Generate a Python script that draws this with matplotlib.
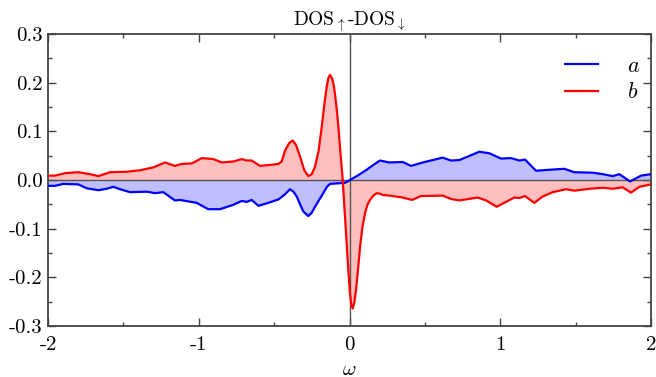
import matplotlib
matplotlib.use("Agg")
import matplotlib.pyplot as plt
from matplotlib.ticker import MultipleLocator, FormatStrFormatter

plt.rcParams['font.family'] = ['cmr10', 'DejaVu Serif']
plt.rcParams['mathtext.fontset'] = 'cm'
plt.rcParams['axes.unicode_minus'] = False
plt.rcParams['axes.formatter.use_mathtext'] = True

omega_a = [-2.0, -1.954, -1.898, -1.799, -1.743, -1.666, -1.611, -1.567, -1.522, -1.456,
           -1.345, -1.290, -1.235, -1.158, -1.124, -1.014, -0.937, -0.859, -0.771, -0.715,
           -0.682, -0.649, -0.605, -0.549, -0.472, -0.430, -0.395, -0.372, -0.350, -0.328,
           -0.306, -0.273, -0.250, -0.229, -0.200, -0.174, -0.150, -0.129, -0.085, -0.030,
           0.003, 0.048, 0.114, 0.158, 0.202, 0.264, 0.353, 0.408, 0.486, 0.618,
           0.673, 0.729, 0.861, 0.927, 1.005, 1.071, 1.127, 1.164, 1.237, 1.325,
           1.425, 1.491, 1.613, 1.680, 1.746, 1.790, 1.861, 1.934, 2.0]
dos_a = [-0.012, -0.012, -0.008, -0.009, -0.017, -0.021, -0.018, -0.014, -0.019, -0.025,
         -0.024, -0.027, -0.025, -0.042, -0.041, -0.047, -0.060, -0.060, -0.051, -0.043,
         -0.045, -0.041, -0.053, -0.048, -0.040, -0.030, -0.019, -0.024, -0.034, -0.050,
         -0.065, -0.074, -0.067, -0.055, -0.040, -0.027, -0.014, -0.008, -0.007, -0.006,
         0.0, 0.008, 0.021, 0.031, 0.040, 0.036, 0.037, 0.029, 0.036, 0.046,
         0.040, 0.041, 0.058, 0.055, 0.044, 0.045, 0.040, 0.042, 0.019, 0.021,
         0.023, 0.016, 0.015, 0.012, 0.008, 0.012, -0.003, 0.009, 0.012]

omega_b = [-2.0, -1.954, -1.887, -1.799, -1.721, -1.666, -1.589, -1.478, -1.390, -1.301,
           -1.224, -1.158, -1.113, -1.047, -0.980, -0.903, -0.848, -0.771, -0.715, -0.682,
           -0.649, -0.594, -0.527, -0.472, -0.450, -0.428, -0.400, -0.377, -0.355, -0.328,
           -0.300, -0.273, -0.250, -0.229, -0.205, -0.184, -0.165, -0.151, -0.140, -0.129,
           -0.115, -0.103, -0.088, -0.074, -0.060, -0.045, -0.032, -0.019, -0.008, 0.003,
           0.012, 0.021, 0.032, 0.043, 0.056, 0.070, 0.085, 0.103, 0.120, 0.136,
           0.158, 0.181, 0.198, 0.224, 0.264, 0.353, 0.415, 0.474, 0.618, 0.673,
           0.729, 0.850, 0.906, 0.976, 1.038, 1.093, 1.127, 1.164, 1.226, 1.281,
           1.348, 1.436, 1.491, 1.591, 1.680, 1.746, 1.812, 1.867, 1.923, 2.0]
dos_b = [0.009, 0.009, 0.014, 0.016, 0.012, 0.008, 0.016, 0.017, 0.020, 0.026,
         0.036, 0.029, 0.033, 0.034, 0.045, 0.043, 0.036, 0.038, 0.043, 0.040,
         0.040, 0.029, 0.031, 0.033, 0.038, 0.060, 0.076, 0.081, 0.072, 0.048,
         0.020, 0.008, 0.012, 0.027, 0.060, 0.110, 0.160, 0.192, 0.210, 0.216,
         0.208, 0.192, 0.155, 0.110, 0.055, 0.0, -0.065, -0.130, -0.185, -0.233,
         -0.257, -0.264, -0.252, -0.226, -0.185, -0.137, -0.098, -0.068, -0.050, -0.041,
         -0.032, -0.027, -0.028, -0.031, -0.032, -0.036, -0.041, -0.033, -0.032, -0.039,
         -0.042, -0.036, -0.042, -0.055, -0.045, -0.036, -0.037, -0.033, -0.047, -0.034,
         -0.025, -0.019, -0.022, -0.018, -0.016, -0.018, -0.015, -0.026, -0.014, -0.009]

labels = ['$a$', '$b$']
title = r'DOS$_{\uparrow}$-DOS$_{\downarrow}$'
xlabel = r'$\omega$'

fig = plt.figure(figsize=(6.56, 3.77), dpi=100)
ax = fig.add_axes([0.0732, 0.1353, 0.9192, 0.7745])

ax.fill_between(omega_a, dos_a, 0, color='#0000ff', alpha=0.25, linewidth=0, zorder=1)
ax.fill_between(omega_b, dos_b, 0, color='#ff0000', alpha=0.25, linewidth=0, zorder=1)
ax.axhline(0, color='#555555', lw=1.0, zorder=2)
ax.axvline(0, color='#555555', lw=1.0, zorder=2)
ax.plot(omega_a, dos_a, color='#0000ff', lw=1.6, label=labels[0], zorder=3)
ax.plot(omega_b, dos_b, color='#ff0000', lw=1.6, label=labels[1], zorder=3)

ax.set_xlim(-2, 2)
ax.set_ylim(-0.3, 0.3)
ax.xaxis.set_major_locator(MultipleLocator(1))
ax.xaxis.set_minor_locator(MultipleLocator(0.5))
ax.yaxis.set_major_locator(MultipleLocator(0.1))
ax.yaxis.set_minor_locator(MultipleLocator(0.05))
ax.xaxis.set_major_formatter(FormatStrFormatter('%d'))
ax.yaxis.set_major_formatter(FormatStrFormatter('%.1f'))
ax.tick_params(which='both', direction='in', top=True, right=True, labelsize=15,
               color='#444444', width=1.0)
ax.tick_params(which='major', length=6, pad=4)
ax.tick_params(axis='x', which='major', pad=7)
ax.tick_params(which='minor', length=3)
for s in ax.spines.values():
    s.set_color('#444444')
    s.set_linewidth(1.3)

ax.set_title(title, fontsize=14, pad=4)
ax.set_xlabel(xlabel, fontsize=15, labelpad=5)

leg = ax.legend(loc='upper right', bbox_to_anchor=(1.0, 0.962), frameon=False,
                fontsize=16, handlelength=1.5, handletextpad=1.3, labelspacing=0.3,
                borderaxespad=0.1)

fig.savefig('out.png', dpi=100)
